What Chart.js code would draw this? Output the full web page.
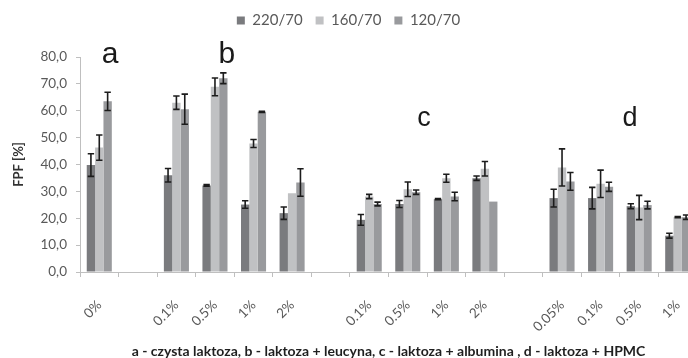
<!DOCTYPE html>
<html>
<head>
<meta charset="utf-8">
<script src="https://cdn.jsdelivr.net/npm/chart.js@4.4.1/dist/chart.umd.min.js"></script>
<style>
  html, body { margin: 0; padding: 0; background: #fff; overflow: hidden; }
  #wrap { width: 712px; height: 358px; }
</style>
</head>
<body>
<div id="wrap"><canvas id="fpfChart"></canvas></div>
<script>
// categories (empty strings are the gaps between groups a, b, c, d)
const categories = ['0%', '', '0.1%', '0.5%', '1%', '2%', '', '0.1%', '0.5%', '1%', '2%', '', '0.05%', '0.1%', '0.5%', '1%'];

const fpf220 = [39.8, null, 36.0, 32.2, 25.1, 21.9, null, 19.4, 25.3, 27.1, 34.9, null, 27.5, 27.5, 24.5, 13.5];
const err220 = [4.2, 0, 2.5, 0.3, 1.4, 2.3, 0, 2.0, 1.3, 0.2, 0.8, 0, 3.3, 4.0, 0.9, 0.9];

const fpf160 = [46.3, null, 63.0, 68.9, 47.8, 29.3, null, 28.1, 30.8, 34.9, 38.4, null, 38.9, 32.8, 24.0, 20.4];
const err160 = [4.7, 0, 2.5, 3.3, 1.5, 0, 0, 0.8, 2.7, 1.5, 2.7, 0, 6.9, 5.1, 4.5, 0.2];

const fpf120 = [63.5, null, 60.6, 72.1, 59.6, 33.3, null, 25.3, 29.7, 28.1, 26.2, null, 33.7, 31.7, 24.9, 20.4];
const err120 = [3.4, 0, 5.6, 2.0, 0.2, 5.1, 0, 0.7, 0.8, 1.6, 0, 0, 3.3, 1.7, 1.4, 0.8];

const seriesNames = ['220/70', '160/70', '120/70'];
const yTicks = [0, 10, 20, 30, 40, 50, 60, 70, 80];

const errors = [err220, err160, err120];

// group letters, placed in category / value units
const letters = [
    { text: 'a', cat: 0.28, val: 77.6, size: 30 },
    { text: 'b', cat: 3.31, val: 77.6, size: 30 },
    { text: 'c', cat: 8.42, val: 54.3, size: 27 },
    { text: 'd', cat: 13.76, val: 54.3, size: 27 }
];

const errorBars = {
    id: 'errorBars',
    afterDatasetsDraw(chart) {
        const ctx = chart.ctx;
        const y = chart.scales.y;
        ctx.save();
        ctx.strokeStyle = '#1c1c1c';
        ctx.lineWidth = 1.6;
        chart.data.datasets.forEach(function(ds, di) {
            const meta = chart.getDatasetMeta(di);
            meta.data.forEach(function(bar, i) {
                const v = ds.data[i];
                const e = errors[di][i];
                if (v === null || !e) return;
                const top = y.getPixelForValue(v + e);
                const bot = y.getPixelForValue(v - e);
                const x = bar.x;
                ctx.beginPath();
                ctx.moveTo(x, top); ctx.lineTo(x, bot);
                ctx.moveTo(x - 3.2, top); ctx.lineTo(x + 3.2, top);
                ctx.moveTo(x - 3.2, bot); ctx.lineTo(x + 3.2, bot);
                ctx.stroke();
            });
        });
        ctx.restore();
    }
};

const groupLetters = {
    id: 'groupLetters',
    afterDraw(chart) {
        const ctx = chart.ctx;
        const x = chart.scales.x;
        const y = chart.scales.y;
        ctx.save();
        ctx.fillStyle = '#1a1a1a';
        ctx.textAlign = 'center';
        ctx.textBaseline = 'alphabetic';
        letters.forEach(function(l) {
            ctx.font = l.size + 'px "Liberation Sans", Arial, sans-serif';
            ctx.fillText(l.text, x.getPixelForValue(l.cat), y.getPixelForValue(l.val));
        });
        ctx.restore();
    }
};

// keep the legend block tall so the plot starts lower, like the original
const legendSpace = {
    id: 'legendSpace',
    beforeUpdate(chart) {
        const lg = chart.legend;
        if (!lg || lg._spaced) return;
        const fit = lg.fit;
        lg.fit = function() {
            fit.call(this);
            this.height = 57;
        };
        lg._spaced = true;
    }
};

const ctx = document.getElementById('fpfChart').getContext('2d');
window.fpfChart = new Chart(ctx, {
    type: 'bar',
    data: {
        labels: categories,
        datasets: [
            { label: seriesNames[0], data: fpf220, backgroundColor: '#7a7b7e' },
            { label: seriesNames[1], data: fpf160, backgroundColor: '#c0c1c3' },
            { label: seriesNames[2], data: fpf120, backgroundColor: '#999a9d' }
        ]
    },
    options: {
        responsive: true,
        maintainAspectRatio: false,
        animation: false,
        layout: { padding: { left: 0, right: 15, top: 0, bottom: 0 } },
        datasets: {
            bar: { categoryPercentage: 0.65, barPercentage: 1.0, borderWidth: 0 }
        },
        plugins: {
            tooltip: { enabled: false },
            legend: {
                position: 'top',
                labels: {
                    boxWidth: 8,
                    boxHeight: 8,
                    padding: 13,
                    color: '#595959',
                    font: { family: 'Lato', size: 15 }
                }
            }
        },
        scales: {
            x: {
                afterFit: function(scale) { scale.height = 86; },
                grid: { drawOnChartArea: false, drawTicks: true, tickLength: 5, color: '#bfbfbf', offset: true },
                border: { color: '#bfbfbf' },
                ticks: {
                    autoSkip: false,
                    minRotation: 45,
                    maxRotation: 45,
                    padding: 20,
                    color: '#595959',
                    font: { family: 'Lato', size: 13.5 }
                },
                title: {
                    display: true,
                    text: 'a - czysta laktoza, b - laktoza + leucyna, c - laktoza + albumina , d - laktoza + HPMC',
                    color: '#1f1f1f',
                    padding: { top: 0, bottom: 0 },
                    font: { family: 'Lato', size: 14, weight: 'bold', lineHeight: 1 }
                }
            },
            y: {
                min: 0,
                max: 80,
                afterFit: function(scale) { scale.width = 80; },
                afterBuildTicks: function(scale) {
                    scale.ticks = yTicks.map(function(v) { return { value: v }; });
                },
                grid: { drawOnChartArea: false, drawTicks: true, tickLength: 4, color: '#bfbfbf' },
                border: { color: '#bfbfbf' },
                ticks: {
                    padding: 9,
                    color: '#595959',
                    font: { family: 'Lato', size: 13.5 },
                    callback: function(v) { return Number(v).toFixed(1).replace('.', ','); }
                },
                title: {
                    display: true,
                    text: 'FPF [%]',
                    color: '#333333',
                    padding: { top: 11, bottom: 0 },
                    font: { family: 'Lato', size: 13, weight: 'bold' }
                }
            }
        }
    },
    plugins: [legendSpace, errorBars, groupLetters]
});
</script>
</body>
</html>
